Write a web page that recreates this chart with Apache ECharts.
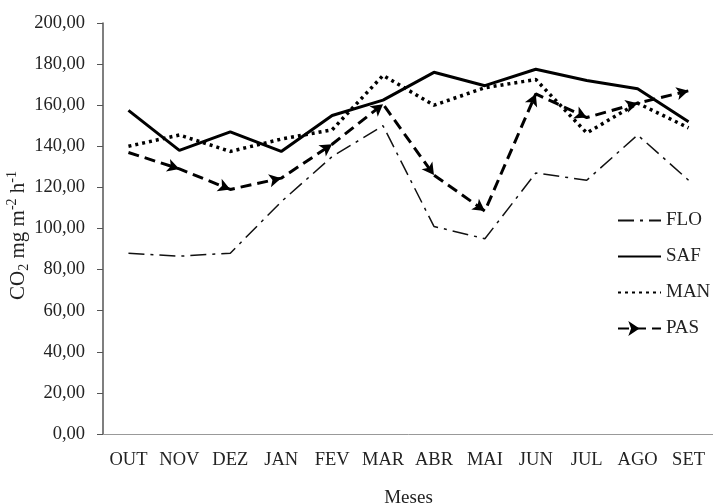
<!DOCTYPE html>
<html>
<head>
<meta charset="utf-8">
<script src="https://cdn.jsdelivr.net/npm/echarts@6/dist/echarts.min.js"></script>
<style>
    html, body { margin: 0; padding: 0; background: #fff; }
    #chart { width: 713px; height: 504px; }
</style>
</head>
<body>
<div id="chart"></div>
<script>
// meses
let meses = ['OUT', 'NOV', 'DEZ', 'JAN', 'FEV', 'MAR', 'ABR', 'MAI', 'JUN', 'JUL', 'AGO', 'SET']
// fluxo de CO2 por área
let flo = [88, 86.5, 88, 113, 135, 150, 101, 95, 127, 123.5, 145.5, 123.5]
let saf = [157.5, 138, 147, 137.5, 155, 162.5, 176, 169.5, 177.5, 172, 168, 152]
let man = [140, 145.5, 137.5, 143.5, 148, 174.5, 160, 168.5, 172.5, 146.5, 161, 149]
let pas = [137, 129, 119, 124.5, 141, 160.5, 126, 108.5, 165.5, 154, 161, 167]
// eixo y
let yMin = 0, yMax = 200, yStep = 20

let fonte = 'Liberation Serif'

// giro da seta do PAS segundo o segmento que chega ao ponto (px por unidade ~2.055, 51 px por mes)
function giroSeta(value, params) {
    let i = params.dataIndex
    let a = i === 0 ? 0 : i - 1
    let b = i === 0 ? 1 : i
    let ang = Math.atan2((pas[b] - pas[a]) * 2.055, 51) * 180 / Math.PI
    return ang - 90
}

let myChart = echarts.init(document.getElementById('chart'))
let option = {
    animation: false,
    textStyle: { fontFamily: fonte, color: '#222' },
    grid: { left: 103, right: -1, top: 23, bottom: 70, outerBoundsMode: 'none' },
    // legenda
    legend: {
        orient: 'vertical',
        left: 612,
        top: 206,
        itemWidth: 43,
        itemHeight: 14,
        itemGap: 17,
        textStyle: { fontFamily: fonte, fontSize: 19, color: '#222' },
        data: ['FLO', 'SAF', 'MAN', { name: 'PAS', symbolRotate: -90 }]
    },
    xAxis: {
        type: 'category',
        data: meses,
        name: 'Meses',
        nameLocation: 'middle',
        nameGap: 55,
        nameTextStyle: { fontFamily: fonte, fontSize: 19, color: '#222' },
        axisLine: { lineStyle: { color: '#999', width: 1 } },
        axisTick: { length: 6, lineStyle: { color: '#999' } },
        axisLabel: { interval: 0, fontFamily: fonte, fontSize: 18.5, color: '#222', margin: 17 }
    },
    yAxis: {
        type: 'value',
        min: yMin,
        max: yMax,
        interval: yStep,
        name: '{b|CO}{s|2}{b| mg m}{p|-2}{b| h}{p|-1}',
        nameLocation: 'middle',
        nameGap: 72,
        nameMoveOverlap: false,
        nameTextStyle: {
            fontFamily: fonte,
            color: '#222',
            padding: [0, 14, 0, 0],
            rich: {
                b: { fontFamily: fonte, fontSize: 21, lineHeight: 26, color: '#222' },
                s: { fontFamily: fonte, fontSize: 14, lineHeight: 14, verticalAlign: 'bottom', color: '#222' },
                p: { fontFamily: fonte, fontSize: 14, lineHeight: 14, verticalAlign: 'top', color: '#222' }
            }
        },
        axisLine: { show: true, lineStyle: { color: '#555', width: 1.5 } },
        axisTick: { show: true, length: 6, lineStyle: { color: '#555' } },
        splitLine: { show: false },
        axisLabel: {
            fontFamily: fonte,
            fontSize: 18.5,
            color: '#222',
            margin: 18,
            formatter: v => v.toFixed(2).replace('.', ',')
        }
    },
    series: [
        {
            name: 'FLO',
            type: 'line',
            data: flo,
            symbol: 'none',
            lineStyle: { color: '#111', width: 1.5, type: [16, 6, 3, 6] },
            itemStyle: { color: '#111', opacity: 0 }
        },
        {
            name: 'SAF',
            type: 'line',
            data: saf,
            symbol: 'none',
            lineStyle: { color: '#000', width: 3 },
            itemStyle: { color: '#000', opacity: 0 }
        },
        {
            name: 'MAN',
            type: 'line',
            data: man,
            symbol: 'none',
            lineStyle: { color: '#000', width: 3.5, type: [3, 4] },
            itemStyle: { color: '#000', opacity: 0 }
        },
        {
            name: 'PAS',
            type: 'line',
            data: pas,
            symbol: 'arrow',
            symbolSize: (v, p) => p.dataIndex === 0 ? 0 : [10, 12],
            symbolRotate: giroSeta,
            lineStyle: { color: '#000', width: 3, type: [11, 6] },
            itemStyle: { color: '#000' }
        }
    ]
}
myChart.setOption(option)
</script>
</body>
</html>
